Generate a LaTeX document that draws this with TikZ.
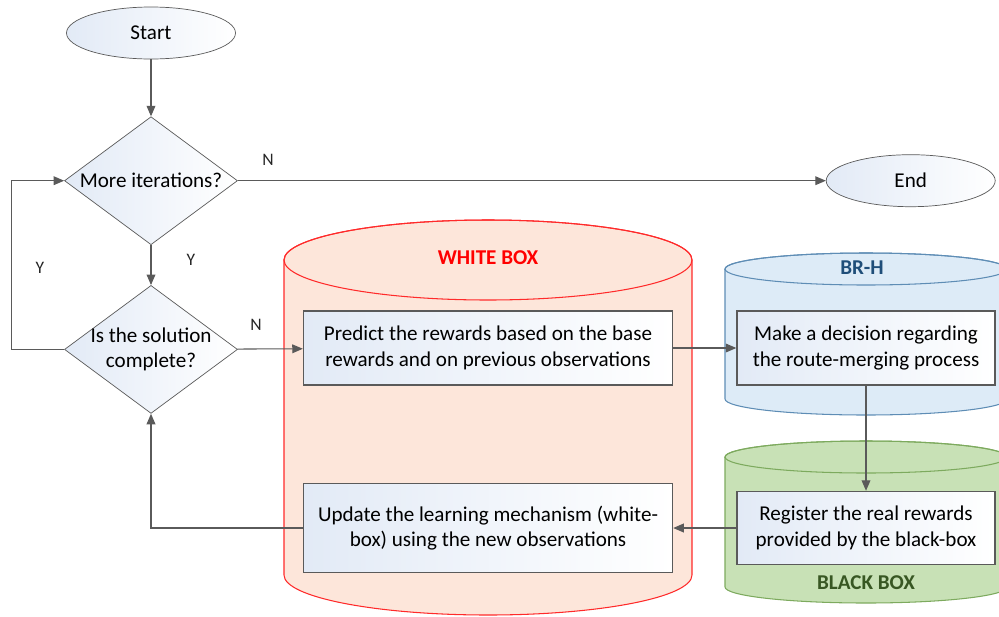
\documentclass[tikz,border=0pt]{standalone}
\usepackage{fontspec}
\setmainfont{Carlito}
\usetikzlibrary{arrows.meta,positioning,shapes.geometric}
\definecolor{cline}{HTML}{5A5A5A}
\definecolor{cboxfill}{HTML}{E2EAF6}
\definecolor{cwhitefill}{HTML}{FDE6DA}
\definecolor{cwhiteline}{HTML}{FF2A2A}
\definecolor{cbluefill}{HTML}{DDEBF7}
\definecolor{cblueline}{HTML}{5E8DB5}
\definecolor{cbluetext}{HTML}{1F4E79}
\definecolor{cgreenfill}{HTML}{C8E1B6}
\definecolor{cgreenline}{HTML}{7DAA5E}
\definecolor{cgreentext}{HTML}{385723}

\begin{document}
\begin{tikzpicture}[
    every node/.style={font=\fontsize{12}{14.5}\selectfont},
    term/.style={ellipse, draw=cline, left color=cboxfill, right color=white,
                 minimum width=3.38cm, minimum height=1.04cm, inner sep=0pt},
    decision/.style={diamond, draw=cline, left color=cboxfill, right color=white,
                 minimum width=3.46cm, minimum height=2.56cm, inner sep=0pt},
    stepbox/.style={rectangle, draw=cline, line width=0.8pt, left color=cboxfill,
                 right color=white, align=center, inner sep=0pt},
    arr/.style={-{Triangle[length=6pt, width=5pt]}, draw=cline, line width=0.6pt},
    yn/.style={font=\fontsize{10}{12}\selectfont, text=black!85},
    drumlabel/.style={font=\fontsize{12}{14}\selectfont\bfseries},
]
\useasboundingbox (0,0) rectangle (19.98,-12.32);

% Start and first decision
\node[term] (start) at (3.02,-0.66) {Start};
\node[decision, below=1.14cm of start, label=center:More iterations?] (iter) {};
\node[decision, below=0.8cm of iter,
      label={[align=center]center:Is the solution\\complete?}] (complete) {};

% End, level with the first decision
\node[term, right=11.76cm of iter] (end) {End};

% White box drum
\filldraw[draw=cwhiteline, fill=cwhitefill, line width=0.6pt]
    (5.68,-5.2) -- (5.68,-11.5) arc[start angle=180, end angle=360, x radius=4.08, y radius=0.8]
    -- (13.84,-5.2) arc[start angle=0, end angle=180, x radius=4.08, y radius=0.8] -- cycle;
\draw[cwhiteline, line width=0.6pt] (9.76,-5.2) ellipse[x radius=4.08, y radius=0.8];
\node[drumlabel, text=red] (whitelbl) at (9.76,-5.16) {WHITE BOX};

% BR-H drum
\filldraw[draw=cblueline, fill=cbluefill, line width=0.6pt]
    (14.5,-5.38) -- (14.5,-7.98) arc[start angle=180, end angle=360, x radius=2.82, y radius=0.32]
    -- (20.14,-5.38) arc[start angle=0, end angle=180, x radius=2.82, y radius=0.32] -- cycle;
\draw[cblueline, line width=0.6pt] (17.32,-5.38) ellipse[x radius=2.82, y radius=0.32];
\node[drumlabel, text=cbluetext] (brhlbl) at (17.24,-5.36) {BR-H};

% Black box drum
\filldraw[draw=cgreenline, fill=cgreenfill, line width=0.6pt]
    (14.5,-9.14) -- (14.5,-11.74) arc[start angle=180, end angle=360, x radius=2.82, y radius=0.32]
    -- (20.14,-9.14) arc[start angle=0, end angle=180, x radius=2.82, y radius=0.32] -- cycle;
\draw[cgreenline, line width=0.6pt] (17.32,-9.14) ellipse[x radius=2.82, y radius=0.32];
\node[drumlabel, text=cgreentext] (blacklbl) at (17.32,-11.66) {BLACK BOX};

% Process steps
\node[stepbox, minimum width=7.38cm, minimum height=1.48cm] (predict) at (9.76,-6.96)
    {Predict the rewards based on the base\\rewards and on previous observations};
\node[stepbox, minimum width=7.38cm, minimum height=1.78cm] (update) at (9.76,-10.56)
    {Update the learning mechanism (white-\\box) using the new observations};
\node[stepbox, minimum width=5.16cm, minimum height=1.48cm] (decide) at (17.32,-6.96)
    {Make a decision regarding\\the route-merging process};
\node[stepbox, minimum width=5.16cm, minimum height=1.46cm] (register) at (17.32,-10.56)
    {Register the real rewards\\provided by the black-box};

% ── Arrows ──
\draw[arr] (start) -- (iter);
\draw[arr] (iter) -- (end);
\draw[arr] (iter) -- (complete);
\draw[arr] (complete.west) -- ++(-1.05,0) |- (iter.west);
\draw[arr] (complete) -- (predict);
\draw[arr] (predict) -- (decide);
\draw[arr] (decide) -- (register);
\draw[arr] (register) -- (update);
\draw[arr] (update.west) -| (complete.south);

% Y / N labels
\node[yn] (nend)  at (5.36,-3.2)  {N};
\node[yn] (ydown) at (3.82,-5.2)  {Y};
\node[yn] (yloop) at (0.8,-5.36)  {Y};
\node[yn] (nstep) at (5.12,-6.5)  {N};

\end{tikzpicture}
\end{document}
